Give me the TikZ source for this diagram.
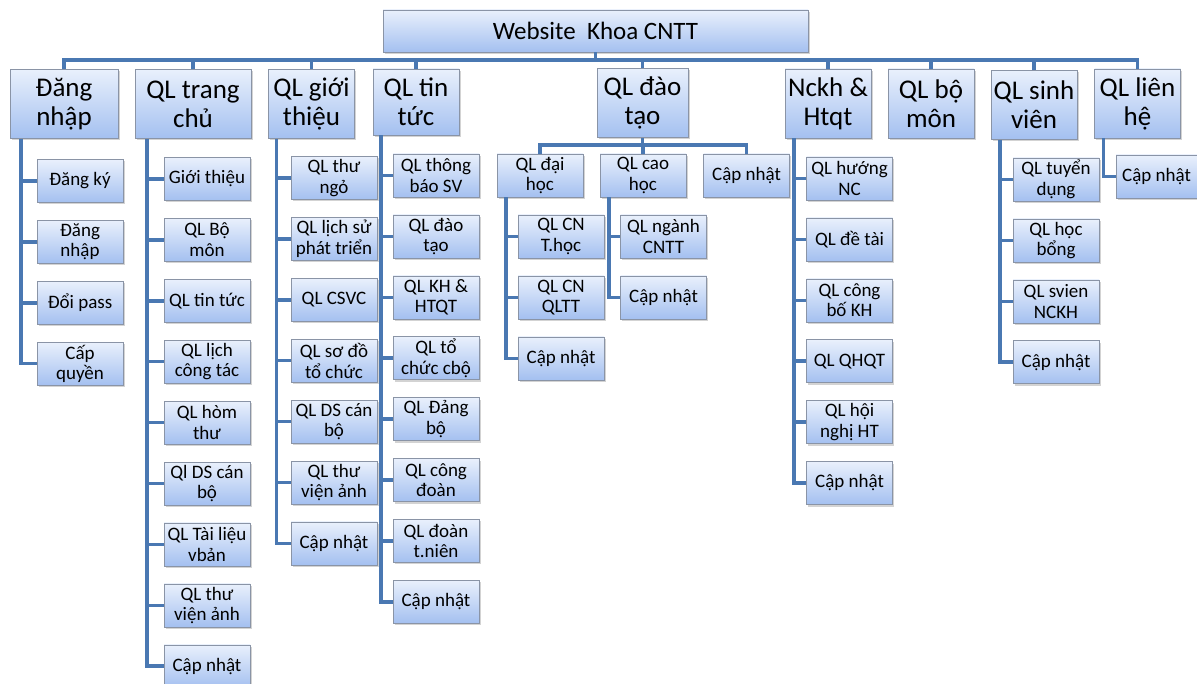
\documentclass[tikz,border=0pt]{standalone}
\usepackage{fontspec}
\setmainfont{Carlito}
\usepackage{tikz}
\usetikzlibrary{positioning, shadows}
\definecolor{boxtop}{HTML}{E9F0FC}
\definecolor{boxbot}{HTML}{A4C0F0}
\definecolor{boxline}{HTML}{8A94A6}
\definecolor{linkblue}{HTML}{4A78B2}
\tikzstyle{box} = [rectangle, draw=boxline, top color=boxtop, bottom color=boxbot, drop shadow={shadow xshift=1.5pt, shadow yshift=-2pt, opacity=0.35}, align=center, inner sep=1pt]
\tikzstyle{root} = [box, minimum width=425pt, minimum height=42pt, font=\fontsize{25}{29}\selectfont]
\tikzstyle{head} = [box, minimum width=86pt, minimum height=69pt, font=\fontsize{27}{29}\selectfont]
\tikzstyle{leaf} = [box, minimum width=86pt, minimum height=43pt, font=\fontsize{19}{20.5}\selectfont]
\tikzstyle{link} = [draw=linkblue, line width=3.5pt]

\begin{document}
\begin{tikzpicture}[x=1pt, y=-1pt, node distance=17.5pt]
  \useasboundingbox (0,0) rectangle (1197,684);
  \node[root] (web) at (595.5,31) {Website\ \ Khoa CNTT};

  \node[head, minimum width=108pt] (dn) at (64,104) {Đăng\\nhập};
  \node[head, minimum width=116pt] (tc) at (193,104) {QL trang\\chủ};
  \node[head] (gt) at (311.5,104) {QL giới\\thiệu};
  \node[head, minimum height=66pt] (tt) at (416,102) {QL tin\\tức};
  \node[head, minimum width=91pt] (dt) at (642.5,103) {QL đào\\tạo};
  \node[head] (nc) at (828,103.5) {Nckh \&\\Htqt};
  \node[head] (bm) at (931,103.5) {QL bộ\\môn};
  \node[head] (sv) at (1034,105) {QL sinh\\viên};
  \node[head] (lh) at (1137.5,103.5) {QL liên\\hệ};

  \node[leaf] (dn1) at (80,181) {Đăng ký};
  \node[leaf, below=of dn1] (dn2) {Đăng\\nhập};
  \node[leaf, below=of dn2] (dn3) {Đổi pass};
  \node[leaf, below=of dn3] (dn4) {Cấp\\quyền};

  \node[leaf] (tc1) at (207,179) {Giới thiệu};
  \node[leaf, below=of tc1] (tc2) {QL Bộ\\môn};
  \node[leaf, below=of tc2] (tc3) {QL tin tức};
  \node[leaf, below=of tc3] (tc4) {QL lịch\\công tác};
  \node[leaf, below=of tc4] (tc5) {QL hòm\\thư};
  \node[leaf, below=of tc5] (tc6) {Ql DS cán\\bộ};
  \node[leaf, below=of tc6] (tc7) {QL Tài liệu\\vbản};
  \node[leaf, below=of tc7] (tc8) {QL thư\\viện ảnh};
  \node[leaf, below=of tc8] (tc9) {Cập nhật};

  \node[leaf] (gt1) at (334,178) {QL thư\\ngỏ};
  \node[leaf, below=of gt1] (gt2) {QL lịch sử\\phát triển};
  \node[leaf, below=of gt2] (gt3) {QL CSVC};
  \node[leaf, below=of gt3] (gt4) {QL sơ đồ\\tổ chức};
  \node[leaf, below=of gt4] (gt5) {QL DS cán\\bộ};
  \node[leaf, below=of gt5] (gt6) {QL thư\\viện ảnh};
  \node[leaf, below=of gt6] (gt7) {Cập nhật};

  \node[leaf] (tt1) at (436,175.5) {QL thông\\báo SV};
  \node[leaf, below=of tt1] (tt2) {QL đào\\tạo};
  \node[leaf, below=of tt2] (tt3) {QL KH \&\\HTQT};
  \node[leaf, below=of tt3] (tt4) {QL tổ\\chức cbộ};
  \node[leaf, below=of tt4] (tt5) {QL Đảng\\bộ};
  \node[leaf, below=of tt5] (tt6) {QL công\\đoàn};
  \node[leaf, below=of tt6] (tt7) {QL đoàn\\t.niên};
  \node[leaf, below=of tt7] (tt8) {Cập nhật};

  \node[leaf] (dh) at (540,175.5) {QL đại\\học};
  \node[leaf] (ch) at (643,175.5) {QL cao\\học};
  \node[leaf] (dtcn) at (746.5,175.5) {Cập nhật};
  \node[leaf] (dh1) at (561,236.5) {QL CN\\T.học};
  \node[leaf, below=of dh1] (dh2) {QL CN\\QLTT};
  \node[leaf, below=of dh2] (dh3) {Cập nhật};
  \node[leaf] (ch1) at (663.5,236.5) {QL ngành\\CNTT};
  \node[leaf, below=of ch1] (ch2) {Cập nhật};

  \node[leaf] (nc1) at (849.5,178.5) {QL hướng\\NC};
  \node[leaf, below=of nc1] (nc2) {QL đề tài};
  \node[leaf, below=of nc2] (nc3) {QL công\\bố KH};
  \node[leaf, below=of nc3] (nc4) {QL QHQT};
  \node[leaf, below=of nc4] (nc5) {QL hội\\nghị HT};
  \node[leaf, below=of nc5] (nc6) {Cập nhật};

  \node[leaf] (sv1) at (1056,179.5) {QL tuyển\\dụng};
  \node[leaf, below=of sv1] (sv2) {QL học\\bổng};
  \node[leaf, below=of sv2] (sv3) {QL svien\\NCKH};
  \node[leaf, below=of sv3] (sv4) {Cập nhật};

  \node[leaf, minimum width=81pt] (lh1) at (1156.5,176.5) {Cập nhật};

  \coordinate (bus) at (596,60);
  \coordinate (dtbus) at (643,145);
  \draw[link] (web.south) -- (web.south |- bus);
  \draw[link] (dn.north) -- (dn.north |- bus) -- (lh.north |- bus) -- (lh.north);
  \draw[link] (tc.north) -- (tc.north |- bus) (gt.north) -- (gt.north |- bus) (tt.north) -- (tt.north |- bus) (dt.north) -- (dt.north |- bus) (nc.north) -- (nc.north |- bus) (bm.north) -- (bm.north |- bus) (sv.north) -- (sv.north |- bus);
  \draw[link] (dt.south) -- (dt.south |- dtbus);
  \draw[link] (dh.north) -- (dh.north |- dtbus) -- (dtcn.north |- dtbus) -- (dtcn.north) (ch.north) -- (ch.north |- dtbus);

  \draw[link] ([xshift=11pt]dn.south west) |- (dn1.west) ([xshift=11pt]dn.south west) |- (dn2.west) ([xshift=11pt]dn.south west) |- (dn3.west) ([xshift=11pt]dn.south west) |- (dn4.west);
  \draw[link] ([xshift=12pt]tc.south west) |- (tc1.west) ([xshift=12pt]tc.south west) |- (tc2.west) ([xshift=12pt]tc.south west) |- (tc3.west) ([xshift=12pt]tc.south west) |- (tc4.west) ([xshift=12pt]tc.south west) |- (tc5.west) ([xshift=12pt]tc.south west) |- (tc6.west) ([xshift=12pt]tc.south west) |- (tc7.west) ([xshift=12pt]tc.south west) |- (tc8.west) ([xshift=12pt]tc.south west) |- (tc9.west);
  \draw[link] ([xshift=8pt]gt.south west) |- (gt1.west) ([xshift=8pt]gt.south west) |- (gt2.west) ([xshift=8pt]gt.south west) |- (gt3.west) ([xshift=8pt]gt.south west) |- (gt4.west) ([xshift=8pt]gt.south west) |- (gt5.west) ([xshift=8pt]gt.south west) |- (gt6.west) ([xshift=8pt]gt.south west) |- (gt7.west);
  \draw[link] ([xshift=8pt]tt.south west) |- (tt1.west) ([xshift=8pt]tt.south west) |- (tt2.west) ([xshift=8pt]tt.south west) |- (tt3.west) ([xshift=8pt]tt.south west) |- (tt4.west) ([xshift=8pt]tt.south west) |- (tt5.west) ([xshift=8pt]tt.south west) |- (tt6.west) ([xshift=8pt]tt.south west) |- (tt7.west) ([xshift=8pt]tt.south west) |- (tt8.west);
  \draw[link] ([xshift=9pt]dh.south west) |- (dh1.west) ([xshift=9pt]dh.south west) |- (dh2.west) ([xshift=9pt]dh.south west) |- (dh3.west);
  \draw[link] ([xshift=9pt]ch.south west) |- (ch1.west) ([xshift=9pt]ch.south west) |- (ch2.west);
  \draw[link] ([xshift=9pt]nc.south west) |- (nc1.west) ([xshift=9pt]nc.south west) |- (nc2.west) ([xshift=9pt]nc.south west) |- (nc3.west) ([xshift=9pt]nc.south west) |- (nc4.west) ([xshift=9pt]nc.south west) |- (nc5.west) ([xshift=9pt]nc.south west) |- (nc6.west);
  \draw[link] ([xshift=9pt]sv.south west) |- (sv1.west) ([xshift=9pt]sv.south west) |- (sv2.west) ([xshift=9pt]sv.south west) |- (sv3.west) ([xshift=9pt]sv.south west) |- (sv4.west);
  \draw[link] ([xshift=9pt]lh.south west) |- (lh1.west);
\end{tikzpicture}
\end{document}
